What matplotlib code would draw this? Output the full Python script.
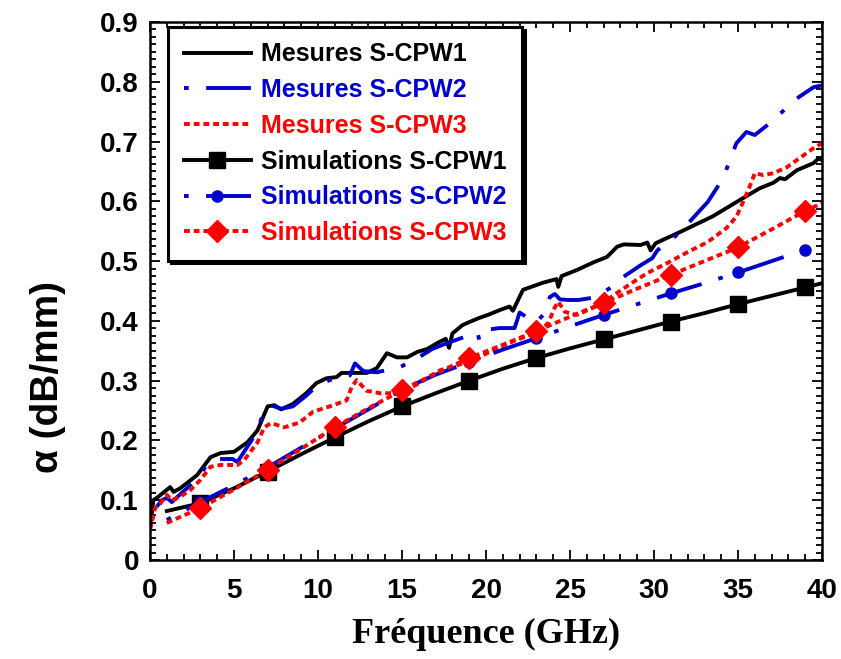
import matplotlib

matplotlib.use('Agg')
import matplotlib.pyplot as plt
from matplotlib.ticker import MultipleLocator, FuncFormatter

f_mes1 = [0, 0.2, 0.5, 1.2, 1.4, 1.8, 2.8, 3.6, 4.2, 5.0, 5.8, 6.4, 7.0, 7.4, 7.8, 8.5,
          9.3, 9.9, 10.5, 11.1, 11.4, 12.9, 13.5, 14.1, 14.7, 15.3, 15.9, 16.5, 17.1,
          17.6, 17.8, 18.0, 18.6, 19.0, 19.6, 20.2, 20.8, 21.4, 21.6, 22.2, 23.4, 24.2,
          24.3, 24.5, 25.4, 26.4, 27.2, 27.8, 28.2, 29.2, 29.6, 29.8, 30.1, 31.5, 33.5,
          35.1, 36.3, 37.1, 37.5, 37.8, 38.5, 39.5, 39.8, 40]
a_mes1 = [0.055, 0.100, 0.106, 0.122, 0.114, 0.120, 0.142, 0.172, 0.179, 0.181, 0.197,
          0.217, 0.257, 0.259, 0.252, 0.261, 0.279, 0.296, 0.304, 0.306, 0.313, 0.313,
          0.321, 0.346, 0.339, 0.339, 0.348, 0.353, 0.363, 0.370, 0.355, 0.379, 0.393,
          0.398, 0.405, 0.411, 0.418, 0.424, 0.417, 0.452, 0.464, 0.470, 0.457, 0.475,
          0.485, 0.498, 0.507, 0.524, 0.528, 0.527, 0.531, 0.518, 0.530, 0.548, 0.575,
          0.602, 0.622, 0.631, 0.639, 0.637, 0.652, 0.664, 0.672, 0.669]

f_mes2 = [0, 0.2, 0.7, 1.0, 1.3, 1.8, 2.8, 3.4, 4.0, 4.9, 5.2, 6.2, 6.8, 7.2, 7.8, 8.5,
          9.3, 10.0, 10.7, 11.9, 12.2, 12.7, 13.5, 14.9, 15.7, 16.8, 17.6, 18.5, 19.5,
          19.6, 20.0, 20.8, 21.7, 22.0, 22.5, 23.0, 23.5, 23.8, 24.1, 24.4, 24.9, 25.5,
          26.4, 27.0, 27.6, 28.3, 29.2, 29.9, 30.2, 31.5, 33.2, 34.1, 34.9, 35.5, 36.0,
          36.5, 36.9, 37.2, 38.6, 39.5, 40]
a_mes2 = [0.055, 0.082, 0.100, 0.104, 0.097, 0.110, 0.135, 0.160, 0.169, 0.169, 0.164,
          0.207, 0.248, 0.259, 0.253, 0.257, 0.275, 0.293, 0.301, 0.309, 0.329, 0.316,
          0.314, 0.323, 0.334, 0.353, 0.362, 0.371, 0.380, 0.368, 0.385, 0.388, 0.388,
          0.414, 0.405, 0.398, 0.413, 0.440, 0.445, 0.436, 0.435, 0.435, 0.439, 0.448,
          0.459, 0.476, 0.493, 0.505, 0.518, 0.547, 0.599, 0.638, 0.697, 0.716, 0.711,
          0.722, 0.731, 0.739, 0.774, 0.791, 0.794]

f_mes3 = [0, 0.3, 0.6, 1.0, 1.3, 1.8, 2.4, 3.0, 3.6, 4.2, 5.2, 5.6, 6.4, 6.8, 7.2, 8.0,
          8.9, 9.7, 10.7, 11.7, 12.0, 12.3, 12.9, 13.7, 14.5, 15.3, 16.3, 17.3, 18.3,
          19.2, 20.0, 20.8, 21.8, 23.0, 23.7, 24.1, 24.3, 24.7, 25.4, 26.2, 27.0, 27.6,
          28.6, 29.6, 30.8, 32.0, 33.2, 34.3, 34.9, 35.4, 35.8, 36.0, 36.5, 37.1, 37.9,
          38.5, 39.5, 40]
a_mes3 = [0.050, 0.087, 0.094, 0.109, 0.100, 0.106, 0.117, 0.134, 0.156, 0.159, 0.159,
          0.167, 0.197, 0.222, 0.229, 0.222, 0.230, 0.248, 0.257, 0.267, 0.289, 0.301,
          0.283, 0.279, 0.279, 0.284, 0.301, 0.318, 0.326, 0.334, 0.345, 0.356, 0.368,
          0.380, 0.396, 0.423, 0.432, 0.415, 0.410, 0.420, 0.430, 0.443, 0.462, 0.480,
          0.497, 0.515, 0.532, 0.555, 0.574, 0.605, 0.632, 0.647, 0.644, 0.647, 0.657,
          0.669, 0.689, 0.697]

# simulations
f_sim = [1, 3, 5, 7, 9, 11, 13, 15, 17, 19, 21, 23, 25, 27, 29, 31, 33, 35, 37, 39, 40]
a_sim1 = [0.082, 0.095, 0.120, 0.148, 0.177, 0.205, 0.232, 0.257, 0.279, 0.300, 0.320,
          0.338, 0.354, 0.369, 0.384, 0.399, 0.413, 0.428, 0.442, 0.456, 0.463]
a_sim2 = [0.067, 0.097, 0.125, 0.155, 0.188, 0.220, 0.252, 0.285, 0.310, 0.331, 0.352,
          0.371, 0.391, 0.410, 0.428, 0.446, 0.463, 0.481, 0.500, 0.519, 0.527]
a_sim3 = [0.062, 0.087, 0.118, 0.151, 0.186, 0.222, 0.254, 0.284, 0.312, 0.338, 0.360,
          0.383, 0.407, 0.430, 0.454, 0.477, 0.500, 0.523, 0.553, 0.584, 0.597]

BLUE = '#0000CC'
RED = '#FF0000'
LW = 2.8
dashdot = (0, (1.2, 4.5, 12, 4.5))
dotted = (0, (1.5, 1.0))
marks = slice(1, 20, 2)

plt.rcParams['font.family'] = 'Liberation Sans'
plt.rcParams['font.weight'] = 'bold'

fig = plt.figure(figsize=(8.41, 6.59), dpi=100)
ax = fig.add_axes([0.1784, 0.1502, 0.799, 0.8164])

ax.plot(f_mes1, a_mes1, color='black', lw=LW, label='Mesures S-CPW1')
ax.plot(f_mes2, a_mes2, color=BLUE, lw=LW, ls=dashdot, label='Mesures S-CPW2')
ax.plot(f_mes3, a_mes3, color=RED, lw=LW, ls=dotted, label='Mesures S-CPW3')
ax.plot(f_sim, a_sim1, color='black', lw=LW, marker='s', ms=12, markevery=marks,
        label='Simulations S-CPW1')
ax.plot(f_sim, a_sim2, color=BLUE, lw=LW, ls=dashdot, marker='o', ms=8,
        markevery=marks, label='Simulations S-CPW2')
ax.plot(f_sim, a_sim3, color=RED, lw=LW, ls=dotted, marker='D', ms=11,
        markevery=marks, label='Simulations S-CPW3')

ax.set_xlim(0, 40)
ax.set_ylim(0, 0.9)
ax.xaxis.set_major_locator(MultipleLocator(5))
ax.xaxis.set_minor_locator(MultipleLocator(1))
ax.yaxis.set_major_locator(MultipleLocator(0.1))
ax.yaxis.set_minor_locator(MultipleLocator(0.0125))
ax.yaxis.set_major_formatter(FuncFormatter(lambda v, p: '0' if abs(v) < 1e-9 else '%.1f' % v))
ax.tick_params(which='both', direction='in', top=True, right=True, width=1.3)
ax.tick_params(which='major', length=7, labelsize=20)
ax.tick_params(which='minor', length=4)
ax.tick_params(axis='x', which='major', pad=13)
ax.tick_params(axis='y', which='major', pad=8)
for sp in ax.spines.values():
    sp.set_linewidth(1.8)

ax.set_xlabel('Fréquence (GHz)', family='Liberation Serif', fontsize=26,
              fontweight='bold', labelpad=10)
ax.set_ylabel('α (dB/mm)', fontsize=28, fontweight='bold')
ax.yaxis.set_label_coords(-0.125, 0.34)

leg = ax.legend(loc='upper left', bbox_to_anchor=(0.027, 0.991), borderaxespad=0,
                fontsize=18, handlelength=2.7, handletextpad=0.4, labelspacing=0.47,
                numpoints=1, fancybox=False, framealpha=1, edgecolor='black',
                borderpad=0.62, shadow={'color': 'black', 'alpha': 1})
leg.get_frame().set_linewidth(2.2)
for txt, c in zip(leg.get_texts(), ['black', BLUE, RED, 'black', BLUE, RED]):
    txt.set_color(c)

plt.savefig('out.png', dpi=100)
